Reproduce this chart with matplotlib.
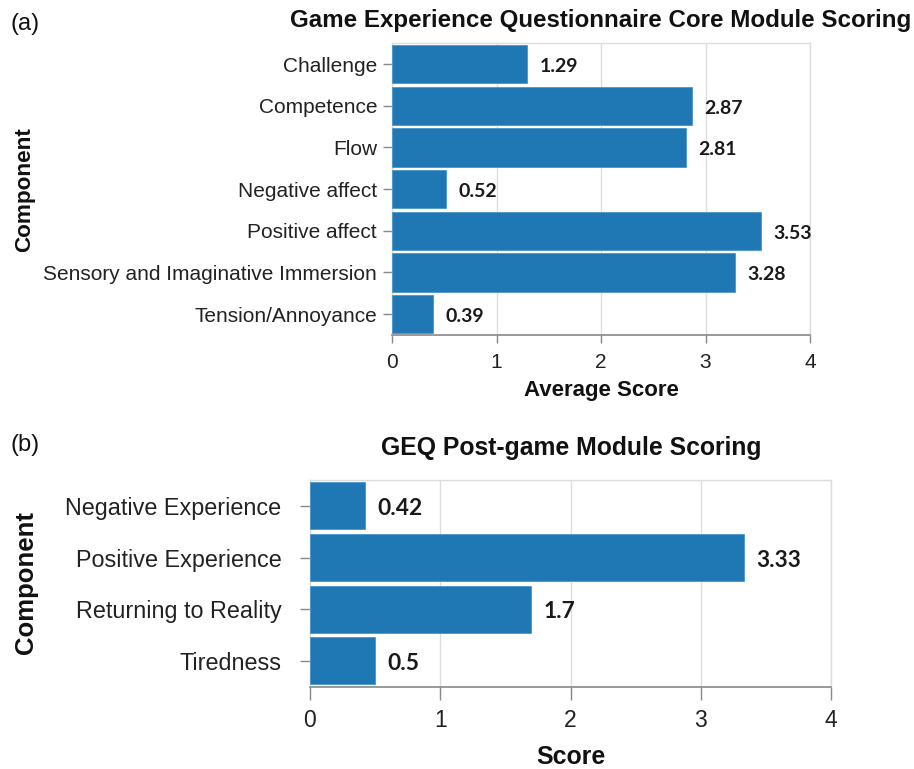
import matplotlib
matplotlib.use("Agg")
import matplotlib.pyplot as plt

# Data
core_components = ["Challenge", "Competence", "Flow", "Negative affect",
                   "Positive affect", "Sensory and Imaginative Immersion",
                   "Tension/Annoyance"]
core_scores = [1.29, 2.87, 2.81, 0.52, 3.53, 3.28, 0.39]
core_labels = ["1.29", "2.87", "2.81", "0.52", "3.53", "3.28", "0.39"]

post_components = ["Negative Experience", "Positive Experience",
                   "Returning to Reality", "Tiredness"]
post_scores = [0.42, 3.33, 1.7, 0.5]
post_labels = ["0.42", "3.33", "1.7", "0.5"]

x_ticks = [0, 1, 2, 3, 4]

W, H = 914, 769
fig = plt.figure(figsize=(W / 100, H / 100), dpi=100)

BAR = "#1f77b4"
GRID = "#dddddd"
DOMAIN = "#888888"
SANS = "Liberation Sans"


def fx(px):
    return px / W


def fy(py):
    return 1 - py / H


def panel(rect, cats, vals, labels, tick_fs, lab_fs, val_fs, ytick_len, ytick_pad,
          xtick_len, xtick_pad, bar_h, val_off):
    ax = fig.add_axes(rect)
    y = list(range(len(cats)))
    ax.barh(y, vals, height=bar_h, color=BAR, edgecolor="#4a97cc", linewidth=0.6, zorder=3)
    ax.set_xlim(0, 4)
    ax.set_ylim(len(cats) - 0.5, -0.5)
    ax.set_xticks(x_ticks)
    ax.set_xticklabels([str(t) for t in x_ticks], fontfamily=SANS, fontsize=tick_fs, color="#222222")
    ax.set_yticks(y)
    ax.set_yticklabels(cats, fontfamily=SANS, fontsize=lab_fs, color="#222222")
    ax.tick_params(axis="y", length=ytick_len, width=1, color=DOMAIN, pad=ytick_pad)
    ax.tick_params(axis="x", length=xtick_len, width=1, color=DOMAIN, pad=xtick_pad)
    ax.grid(axis="x", color=GRID, linewidth=1, zorder=0)
    ax.set_axisbelow(True)
    for s in ["top", "right", "left"]:
        ax.spines[s].set_color(GRID)
        ax.spines[s].set_linewidth(1)
    ax.spines["bottom"].set_color(DOMAIN)
    ax.spines["bottom"].set_linewidth(1.2)
    for yi, v, t in zip(y, vals, labels):
        ax.annotate(t, xy=(v, yi), xytext=(val_off, -1.8), textcoords="offset points",
                    ha="left", va="center", fontfamily="Lato", fontweight="bold",
                    fontsize=val_fs, color="#1a1a1a")
    return ax


# Panel (a)
ax1 = panel([fx(392), fy(335), fx(810) - fx(392), (335 - 43.3) / H],
            core_components, core_scores, core_labels,
            tick_fs=15, lab_fs=15, val_fs=14, ytick_len=6.5, ytick_pad=4.3,
            xtick_len=5.8, xtick_pad=7.5, bar_h=0.92, val_off=9)

# Panel (b)
ax2 = panel([fx(310), fy(686.7), fx(831) - fx(310), (686.7 - 480) / H],
            post_components, post_scores, post_labels,
            tick_fs=16.5, lab_fs=16.8, val_fs=16.4, ytick_len=7.2, ytick_pad=13.5,
            xtick_len=9, xtick_pad=7, bar_h=0.91, val_off=9)

# Titles and labels
fig.text(fx(601), fy(21), "Game Experience Questionnaire Core Module Scoring",
         ha="center", va="center", fontfamily=SANS, fontweight="bold", fontsize=17.4, color="#111111")
fig.text(fx(601), fy(390), "Average Score", ha="center", va="center",
         fontfamily=SANS, fontweight="bold", fontsize=16, color="#111111")
fig.text(fx(25), fy(190), "Component", ha="center", va="center", rotation=90,
         fontfamily=SANS, fontweight="bold", fontsize=16.2, color="#111111")
fig.text(fx(11), fy(24), "(a)", ha="left", va="center", fontfamily=SANS, fontsize=17, color="#111111")

fig.text(fx(571), fy(448), "GEQ Post-game Module Scoring",
         ha="center", va="center", fontfamily=SANS, fontweight="bold", fontsize=17.8, color="#111111")
fig.text(fx(571), fy(757), "Score", ha="center", va="center",
         fontfamily=SANS, fontweight="bold", fontsize=17.9, color="#111111")
fig.text(fx(26), fy(582), "Component", ha="center", va="center", rotation=90,
         fontfamily=SANS, fontweight="bold", fontsize=18.5, color="#111111")
fig.text(fx(11), fy(445), "(b)", ha="left", va="center", fontfamily=SANS, fontsize=17, color="#111111")

fig.savefig("out.png", dpi=100, facecolor="white")
